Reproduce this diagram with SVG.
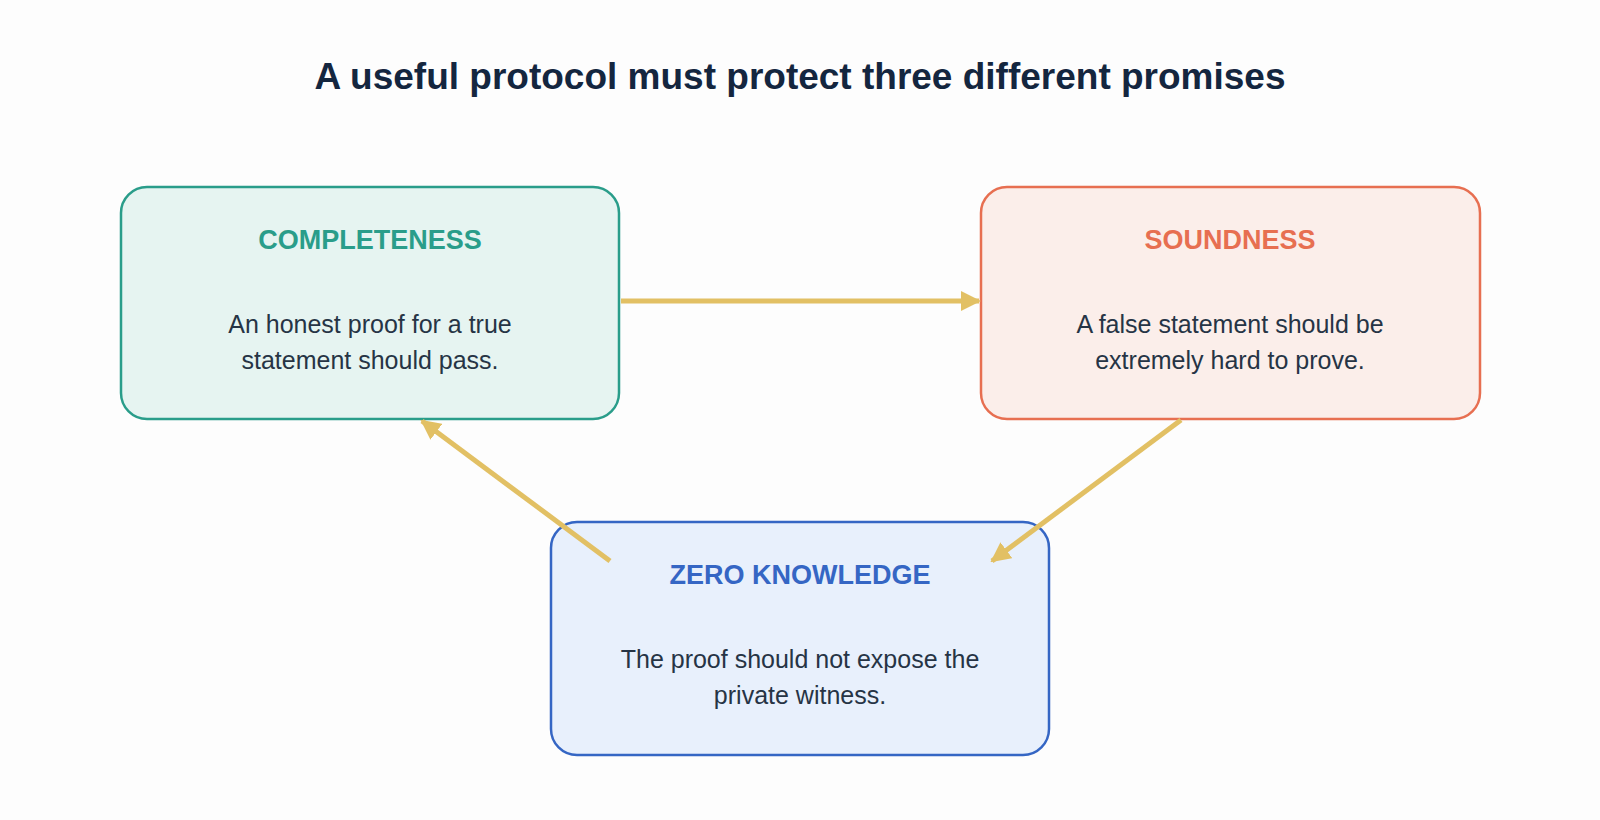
<svg xmlns="http://www.w3.org/2000/svg" width="1600" height="820" viewBox="0 0 1600 820">
<style>
text{font-family:"Liberation Sans",Arial,sans-serif;text-anchor:middle}
.t{font-size:37px;font-weight:bold;fill:#14263f}
.h{font-size:27px;font-weight:bold}
.b{font-size:25px;fill:#263445}
.c{stroke:#e2c064;stroke-width:5;fill:none;marker-end:url(#a)}
</style>
<defs><marker id="a" viewBox="0 0 10 10" refX="9" refY="5" markerWidth="4" markerHeight="4" orient="auto" markerUnits="strokeWidth"><path d="M0,0L10,5L0,10z" fill="#e2c064"/></marker></defs>
<rect width="1600" height="820" fill="#fdfdfd"/>
<text class="t" x="800" y="89">A useful protocol must protect three different promises</text>
<g id="completeness"><rect x="121" y="187" width="498" height="232" rx="26" fill="#e6f4f1" stroke="#2a9d8a" stroke-width="2.5"/>
<text class="h" x="370" y="249" fill="#2a9d8a">COMPLETENESS</text>
<text class="b" x="370" y="333">An honest proof for a true</text><text class="b" x="370" y="369">statement should pass.</text></g>
<g id="soundness"><rect x="981" y="187" width="499" height="232" rx="26" fill="#fbeeea" stroke="#e76f51" stroke-width="2.5"/>
<text class="h" x="1230" y="249" fill="#e76f51">SOUNDNESS</text>
<text class="b" x="1230" y="333">A false statement should be</text><text class="b" x="1230" y="369">extremely hard to prove.</text></g>
<g id="zk"><rect x="551" y="522" width="498" height="233" rx="26" fill="#e8f0fc" stroke="#3566c4" stroke-width="2.5"/>
<text class="h" x="800" y="584" fill="#3566c4">ZERO KNOWLEDGE</text>
<text class="b" x="800" y="668">The proof should not expose the</text><text class="b" x="800" y="704">private witness.</text></g>
<g id="connectors">
<path class="c" d="M621,301H979"/>
<path class="c" d="M1181,420L992,561"/>
<path class="c" d="M610,561L422,421"/>
</g>
</svg>
